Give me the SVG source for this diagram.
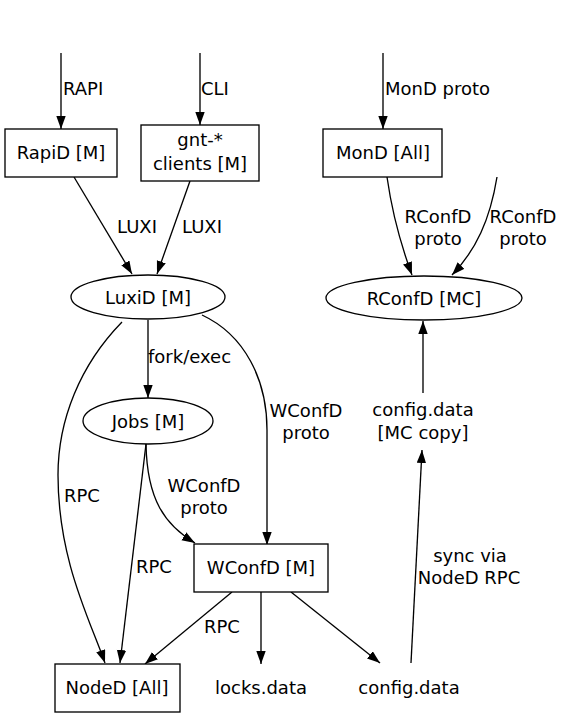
<svg xmlns="http://www.w3.org/2000/svg" width="564" height="717" viewBox="0 0 564 717">
<defs>
<style>
text{font-family:"DejaVu Sans",sans-serif;font-size:18px;fill:#000;text-anchor:middle}
.l{text-anchor:start}
.n{fill:#fff;stroke:#000;stroke-width:1.33}
.e{fill:none;stroke:#000;stroke-width:1.33;marker-end:url(#a)}
</style>
<marker id="a" markerUnits="userSpaceOnUse" markerWidth="14" markerHeight="10" refX="13" refY="4.7" orient="auto" viewBox="0 0 14 10">
<path d="M0,0 L13,4.7 L0,9.4 z" fill="#000"/>
</marker>
</defs>
<rect width="564" height="717" fill="#fff"/>
<g id="edges">
<path class="e" d="M61,53 L61,129"/>
<text class="l" x="63" y="95">RAPI</text>
<path class="e" d="M200,53 L200,125"/>
<text class="l" x="201" y="95">CLI</text>
<path class="e" d="M383,53 L383,129"/>
<text class="l" x="385" y="95">MonD proto</text>
<path class="e" d="M74,177 L132,274"/>
<text class="l" x="117" y="233">LUXI</text>
<path class="e" d="M190,181 L157,274"/>
<text class="l" x="182" y="233">LUXI</text>
<path class="e" d="M387,177 C392,212 402,248 412,275"/>
<text x="438" y="223">RConfD</text>
<text x="438" y="245">proto</text>
<path class="e" d="M497,177 C490,220 476,250 452,275"/>
<text x="523" y="223">RConfD</text>
<text x="523" y="245">proto</text>
<path class="e" d="M148,320 L148,398"/>
<text class="l" x="148" y="363">fork/exec</text>
<path class="e" d="M122,322 C80,365 58,420 58,475 C58,560 90,620 105,663"/>
<text class="l" x="64" y="502">RPC</text>
<path class="e" d="M146,444 L120,663"/>
<text class="l" x="136" y="573">RPC</text>
<path class="e" d="M146,444 C147,500 165,525 195,543"/>
<text x="204" y="492">WConfD</text>
<text x="204" y="514">proto</text>
<path class="e" d="M202,315 C245,335 267,380 267,430 L267,545"/>
<text x="306" y="417">WConfD</text>
<text x="306" y="439">proto</text>
<path class="e" d="M232,592 L145,664"/>
<text class="l" x="204" y="633">RPC</text>
<path class="e" d="M261,592 L261,664"/>
<path class="e" d="M291,592 L380,663"/>
<path class="e" d="M411,663 L422,450"/>
<text x="470" y="562">sync via</text>
<text x="469" y="584">NodeD RPC</text>
<path class="e" d="M423,393 L423,321"/>
</g>
<g id="RapiD"><rect class="n" x="5" y="129" width="112" height="48"/><text x="61" y="159">RapiD [M]</text></g>
<g id="gnt"><rect class="n" x="141" y="125" width="118" height="56"/><text x="200" y="146">gnt-*</text><text x="200" y="170">clients [M]</text></g>
<g id="MonD"><rect class="n" x="323" y="129" width="119" height="48"/><text x="383" y="159">MonD [All]</text></g>
<g id="LuxiD"><ellipse class="n" cx="148" cy="297" rx="77" ry="22"/><text x="148" y="304">LuxiD [M]</text></g>
<g id="RConfD"><ellipse class="n" cx="424" cy="298" rx="98" ry="22"/><text x="424" y="305">RConfD [MC]</text></g>
<g id="Jobs"><ellipse class="n" cx="148" cy="421" rx="65" ry="23"/><text x="148" y="428">Jobs [M]</text></g>
<g id="MCcopy"><text x="423" y="416">config.data</text><text x="423" y="439">[MC copy]</text></g>
<g id="WConfD"><rect class="n" x="194" y="544" width="134" height="48"/><text x="261" y="574">WConfD [M]</text></g>
<g id="NodeD"><rect class="n" x="55" y="664" width="125" height="48"/><text x="117" y="694">NodeD [All]</text></g>
<g id="locks"><text x="261" y="694">locks.data</text></g>
<g id="config"><text x="409" y="694">config.data</text></g>
</svg>
